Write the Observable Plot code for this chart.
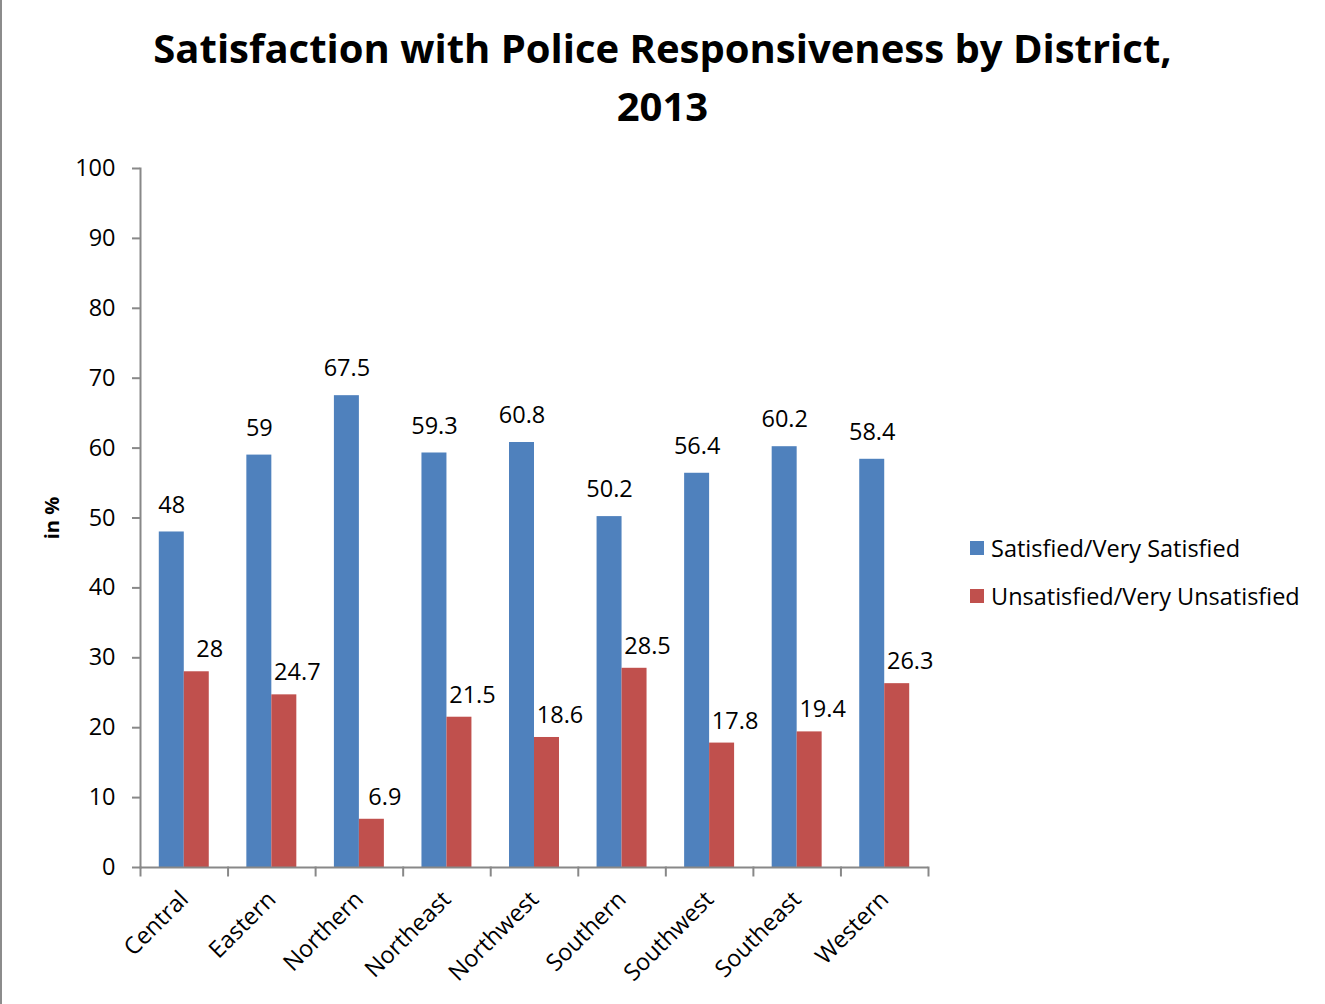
<!DOCTYPE html>
<html><head>
<meta charset="utf-8">
<script src="https://cdn.jsdelivr.net/npm/d3@7"></script>
<script src="https://cdn.jsdelivr.net/npm/@observablehq/plot@0.6"></script>
<style>
body{margin:0;background:#fff;font-family:"Open Sans",sans-serif;color:#000;}
#wrap{position:relative;width:1325px;height:1004px;overflow:hidden;background:#fff;}
#border{position:absolute;left:0;top:0;width:2px;height:1004px;background:#8c8c8c;}
#title{position:absolute;left:0;width:1325px;top:19px;text-align:center;font-weight:bold;font-size:40px;line-height:58px;}
#ylabel{position:absolute;left:51px;top:518px;transform:translate(-50%,-50%) rotate(-90deg);font-weight:bold;font-size:20px;white-space:nowrap;}
#legend{position:absolute;left:970px;top:524px;font-size:23.5px;}
.item{display:flex;align-items:center;height:48px;white-space:nowrap;}
.sw{width:14px;height:14px;margin-right:7px;}
#chart{position:absolute;left:0;top:0;}
</style></head>
<body><div id="wrap">
<div id="chart"></div>
<div id="border"></div>
<div id="title">Satisfaction with Police Responsiveness by District,<br>2013</div>
<div id="ylabel">in %</div>
<div id="legend"></div>
</div>
<script>
const districts = ["Central","Eastern","Northern","Northeast","Northwest","Southern","Southwest","Southeast","Western"];
const satisfied = [48,59,67.5,59.3,60.8,50.2,56.4,60.2,58.4];
const unsatisfied = [28,24.7,6.9,21.5,18.6,28.5,17.8,19.4,26.3];
const seriesNames = ["Satisfied/Very Satisfied","Unsatisfied/Very Unsatisfied"];
const colors = ["#4F81BD","#C0504D"];
const yTicks = [0,10,20,30,40,50,60,70,80,90,100];

const data = districts.flatMap((d,i)=>[
  {district:d, series:seriesNames[0], value:satisfied[i]},
  {district:d, series:seriesNames[1], value:unsatisfied[i]}
]);

const axisColor = "#888888";
const fs = 23.5;
const chart = Plot.plot({
  width:1325, height:1004,
  marginLeft:140, marginRight:397, marginTop:168, marginBottom:137,
  style:{fontFamily:"'Open Sans', sans-serif", fontSize:fs+"px", color:"#000", background:"transparent"},
  fx:{domain:districts, paddingInner:0, paddingOuter:0, round:false, label:null},
  x:{domain:seriesNames, paddingInner:0, paddingOuter:0.752, round:false, axis:null},
  y:{domain:[0,100], label:null},
  color:{domain:seriesNames, range:colors},
  marks:[
    Plot.barY(data,{fx:"district", x:"series", y:"value", fill:"series"}),
    Plot.text(data.filter(d=>d.series===seriesNames[0]),{fx:"district", x:"series", y:"value", text:d=>String(d.value), dy:-27, fontSize:fs, fill:"#000"}),
    Plot.text(data.filter(d=>d.series===seriesNames[1]),{fx:"district", x:"series", y:"value", text:d=>String(d.value), dx:13, dy:-22, fontSize:fs, fill:"#000"}),
    Plot.ruleY([0],{stroke:axisColor, strokeWidth:2}),
    Plot.frame({anchor:"left", facetAnchor:"left", stroke:axisColor, strokeWidth:2}),
    Plot.frame({anchor:"left", insetTop:699, insetBottom:-8, stroke:axisColor, strokeWidth:2}),
    Plot.frame({anchor:"right", facetAnchor:"right", insetTop:699, insetBottom:-8, stroke:axisColor, strokeWidth:2}),
    Plot.axisY({ticks:yTicks, tickSize:8, tickPadding:17, stroke:axisColor, strokeWidth:2, fill:"#000", fontSize:fs, label:null}),
    Plot.axisFx({anchor:"bottom", tickRotate:-45, tickSize:0, tickPadding:28, fontSize:fs, fill:"#000", label:null})
  ]
});
document.getElementById("chart").appendChild(chart);

const legend = document.getElementById("legend");
seriesNames.forEach((s,i)=>{
  const it = document.createElement("div"); it.className="item";
  const sw = document.createElement("div"); sw.className="sw"; sw.style.background=colors[i];
  const t = document.createElement("span"); t.textContent=s;
  it.appendChild(sw); it.appendChild(t); legend.appendChild(it);
});
</script>
</body></html>
